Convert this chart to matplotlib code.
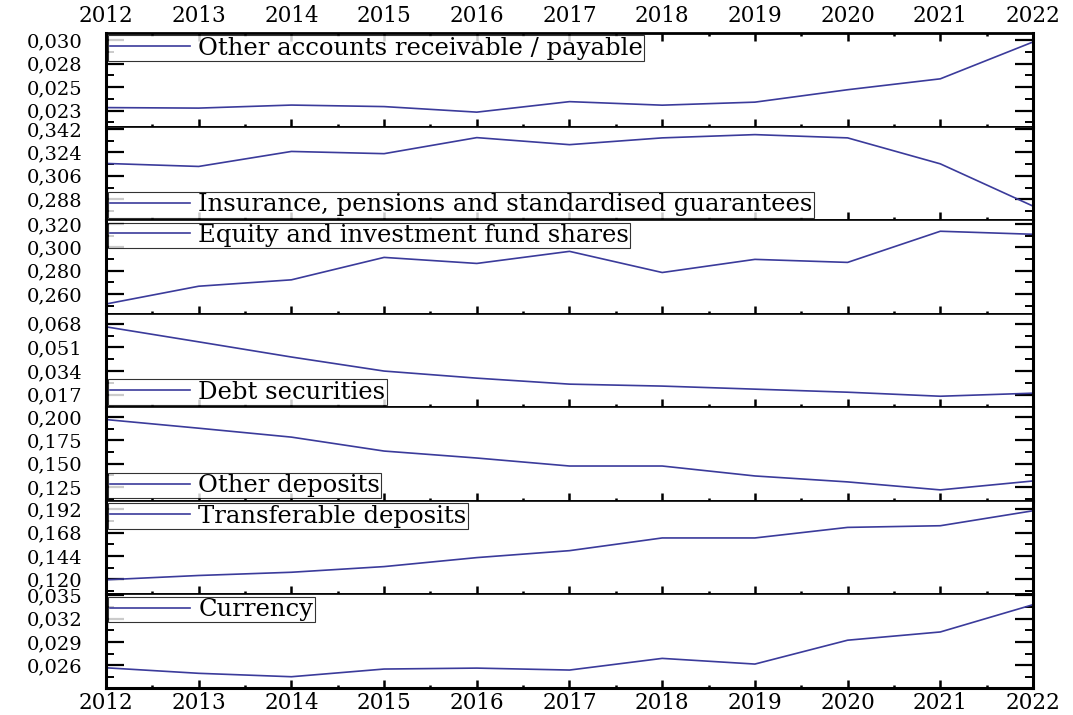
import matplotlib
matplotlib.use("Agg")
import matplotlib.pyplot as plt
from matplotlib.ticker import FixedLocator, FuncFormatter

years = [2012, 2013, 2014, 2015, 2016, 2017, 2018, 2019, 2020, 2021, 2022]

series_names = [
    "Other accounts receivable / payable",
    "Insurance, pensions and standardised guarantees",
    "Equity and investment fund shares",
    "Debt securities",
    "Other deposits",
    "Transferable deposits",
    "Currency",
]

other_accounts = [0.02330, 0.02325, 0.02355, 0.02340, 0.02285, 0.02389, 0.02354, 0.02384, 0.02507, 0.02615, 0.02980]
insurance = [0.3155, 0.3132, 0.3247, 0.3230, 0.3353, 0.3299, 0.3351, 0.3376, 0.3351, 0.3152, 0.2828]
equity = [0.2513, 0.2666, 0.2721, 0.2914, 0.2862, 0.2966, 0.2784, 0.2897, 0.2871, 0.3139, 0.3113]
debt = [0.0658, 0.0550, 0.0441, 0.0340, 0.0289, 0.0246, 0.0232, 0.0210, 0.0188, 0.0159, 0.0181]
other_deposits = [0.1975, 0.1882, 0.1786, 0.1636, 0.1561, 0.1475, 0.1475, 0.1368, 0.1304, 0.1218, 0.1314]
transferable = [0.1197, 0.1241, 0.1274, 0.1332, 0.1424, 0.1495, 0.1625, 0.1625, 0.1733, 0.1750, 0.1903]
currency = [0.02569, 0.02498, 0.02454, 0.02553, 0.02565, 0.02540, 0.02690, 0.02617, 0.02924, 0.03030, 0.03381]

series_values = [other_accounts, insurance, equity, debt, other_deposits, transferable, currency]

# axis settings per panel: (ymin, ymax), first major tick, major step
y_limits = [(0.02142, 0.03069), (0.27203, 0.34377), (0.24294, 0.32346), (0.00796, 0.07523),
            (0.1100, 0.21071), (0.10472, 0.20045), (0.02309, 0.03513)]
tick_start = [0.023, 0.288, 0.260, 0.017, 0.125, 0.120, 0.026]
tick_step = [0.007 / 3, 0.018, 0.020, 0.017, 0.025, 0.024, 0.003]
legend_loc = ["upper left", "lower left", "upper left", "lower left", "lower left", "upper left", "upper left"]

line_color = "#3b3b9b"
font_family = ["DejaVu Serif"]

fig = plt.figure(figsize=(10.73, 7.15), dpi=100)
W, H = 1073, 715
left, right, top, bottom = 106, 1033, 33, 688
n = len(series_names)
ph = (bottom - top) / n

fmt = FuncFormatter(lambda v, p: f"{v:.3f}".replace(".", ","))

for i in range(n):
    ax = fig.add_axes([left / W, (H - (top + (i + 1) * ph)) / H, (right - left) / W, ph / H])
    ax.plot(years, series_values[i], color=line_color, lw=1.2, label=series_names[i])
    ax.set_xlim(2012, 2022)
    lo, hi = y_limits[i]
    ax.set_ylim(lo, hi)
    majors = [tick_start[i] + k * tick_step[i] for k in range(4)]
    minors = [tick_start[i] + (k + 0.5) * tick_step[i] for k in range(-3, 5)]
    minors = [m for m in minors if lo < m < hi]
    ax.yaxis.set_major_locator(FixedLocator(majors))
    ax.yaxis.set_minor_locator(FixedLocator(minors))
    ax.yaxis.set_major_formatter(fmt)
    ax.xaxis.set_major_locator(FixedLocator(years))
    ax.xaxis.set_minor_locator(FixedLocator([y + 0.5 for y in years[:-1]]))
    ax.xaxis.set_major_formatter(FuncFormatter(lambda v, p: f"{int(round(v))}"))

    ax.tick_params(axis="y", which="major", direction="in", length=13, width=1.6,
                   left=True, right=True, labelleft=True, labelright=False,
                   labelsize=14, pad=17)
    ax.tick_params(axis="y", which="minor", direction="in", length=6, width=1.4,
                   left=True, right=True)
    ax.tick_params(axis="x", which="major", direction="in", length=6, width=1.8,
                   bottom=True, top=(i == 0), labelbottom=(i == n - 1), labeltop=(i == 0),
                   labelsize=15.5)
    ax.tick_params(axis="x", which="minor", direction="in", length=2.5, width=1.8,
                   bottom=True, top=(i == 0))
    if i == 0:
        ax.tick_params(axis="x", which="major", pad=4)
    else:
        ax.tick_params(axis="x", which="major", pad=3)
    for lab in ax.get_xticklabels() + ax.get_yticklabels():
        lab.set_family(font_family)

    ax.spines["left"].set_linewidth(2.2)
    ax.spines["right"].set_linewidth(2.2)
    ax.spines["top"].set_linewidth(2.0 if i == 0 else 1.2)
    ax.spines["bottom"].set_linewidth(2.2 if i == n - 1 else 1.2)

    leg = ax.legend(loc=legend_loc[i], frameon=True, fancybox=False, shadow=False,
                    borderpad=0.05, borderaxespad=0.1, handlelength=3.3, handletextpad=0.35,
                    prop={"family": font_family, "size": 17.5})
    leg.get_frame().set_edgecolor("black")
    leg.get_frame().set_linewidth(0.8)
    leg.set_zorder(1.5)

fig.savefig("out.png", dpi=100)
